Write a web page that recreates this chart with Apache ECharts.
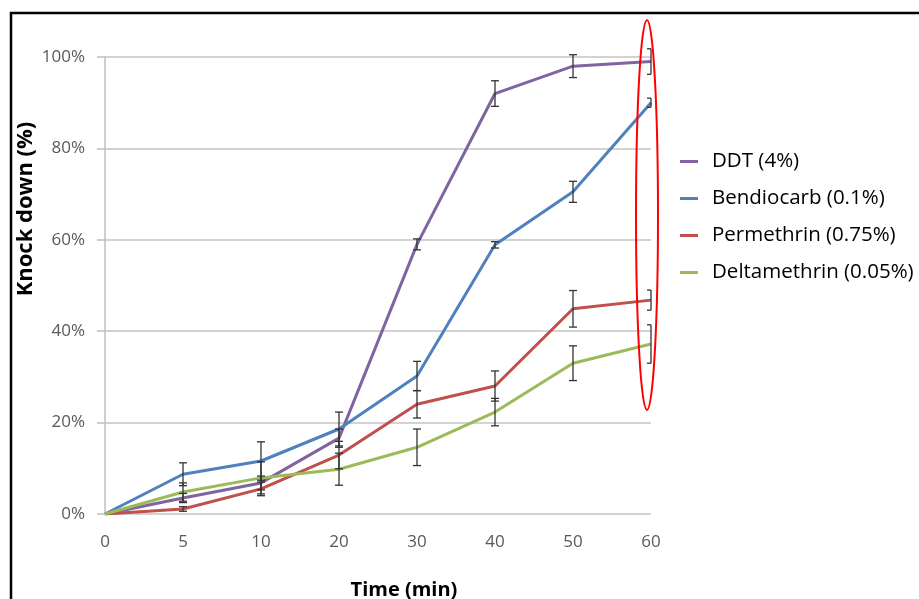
<!DOCTYPE html>
<html>
<head>
<meta charset="utf-8">
<script src="https://cdn.jsdelivr.net/npm/echarts@6/dist/echarts.min.js"></script>
<style>
  html, body { margin: 0; padding: 0; background: #fff; }
  #chart { width: 919px; height: 599px; }
</style>
</head>
<body>
<div id="chart"></div>
<script>
// time points (min), shown as evenly spaced categories
var times = ['0', '5', '10', '20', '30', '40', '50', '60'];
var yTicks = [0, 20, 40, 60, 80, 100];

var names = ['DDT (4%)', 'Bendiocarb (0.1%)', 'Permethrin (0.75%)', 'Deltamethrin (0.05%)'];
var colors = ['#8064A2', '#4F81BD', '#C0504D', '#9BBB59'];

var ddt = [0, 3.5, 6.8, 16.6, 59, 92, 98, 99];
var bendiocarb = [0, 8.7, 11.6, 18.6, 30.2, 58.9, 70.5, 90];
var permethrin = [0, 1.1, 5.5, 12.9, 24, 28, 44.9, 46.8];
var deltamethrin = [0, 4.8, 7.9, 9.8, 14.6, 22.3, 33, 37.2];

var ddtErr = [0, 1, 1.5, 2, 1.2, 2.8, 2.5, 2.8];
var bendiocarbErr = [0, 2.5, 4.2, 3.7, 3.2, 0.7, 2.3, 1];
var permethrinErr = [0, 0.5, 1.5, 3, 3, 3.3, 4, 2.2];
var deltamethrinErr = [0, 2, 3.5, 3.5, 4, 3, 3.8, 4.2];

var values = [ddt, bendiocarb, permethrin, deltamethrin];
var errors = [ddtErr, bendiocarbErr, permethrinErr, deltamethrinErr];

var chart = echarts.init(document.getElementById('chart'));

var font = '"Open Sans", "Liberation Sans", sans-serif';

var renderError = function (params, api) {
    var i = api.value(0);
    var v = api.value(1);
    var e = api.value(2);
    if (!e) return null;
    var top = api.coord([i, v + e]);
    var bot = api.coord([i, v - e]);
    var w = 4;
    var last = i === times.length - 1;
    var style = { stroke: '#333', lineWidth: 1.3 };
    return {
        type: 'group',
        children: [
            { type: 'line', shape: { x1: top[0], y1: top[1], x2: bot[0], y2: bot[1] }, style: style },
            { type: 'line', shape: { x1: top[0] - w, y1: top[1], x2: last ? top[0] : top[0] + w, y2: top[1] }, style: style },
            { type: 'line', shape: { x1: bot[0] - w, y1: bot[1], x2: last ? bot[0] : bot[0] + w, y2: bot[1] }, style: style }
        ]
    };
};

var series = [];
for (var s = 0; s < values.length; s++) {
    series.push({
        name: names[s],
        type: 'line',
        data: values[s],
        symbol: 'none',
        lineStyle: { color: colors[s], width: 3 },
        itemStyle: { color: colors[s] },
        z: 3
    });
}
for (var s = 0; s < values.length; s++) {
    var d = [];
    for (var i = 0; i < times.length; i++) {
        d.push([i, values[s][i], errors[s][i]]);
    }
    series.push({
        type: 'custom',
        renderItem: renderError,
        data: d,
        encode: { x: 0, y: 1 },
        silent: true,
        z: 4
    });
}

chart.setOption({
    animation: false,
    backgroundColor: '#fff',
    grid: { left: 105, right: 268, top: 57, bottom: 85 },
    legend: {
        data: names,
        orient: 'vertical',
        left: 675,
        top: 146,
        itemGap: 16,
        itemWidth: 18,
        itemHeight: 3,
        icon: 'rect',
        textStyle: { fontFamily: font, fontSize: 20.5, color: '#000', lineHeight: 20, padding: [0, 0, 0, 9] }
    },
    xAxis: {
        type: 'category',
        data: times,
        boundaryGap: false,
        axisLine: { show: false },
        axisTick: { show: false },
        axisLabel: { color: '#595959', fontFamily: font, fontSize: 17, margin: 20 },
        splitLine: { show: false }
    },
    yAxis: {
        type: 'value',
        min: yTicks[0],
        max: yTicks[yTicks.length - 1],
        interval: 20,
        axisLine: { show: true, lineStyle: { color: '#bfbfbf', width: 1.5 } },
        axisTick: { show: true, length: 8, lineStyle: { color: '#bfbfbf', width: 1.5 } },
        axisLabel: { color: '#595959', fontFamily: font, fontSize: 17, margin: 20, formatter: '{value}%' },
        splitLine: { lineStyle: { color: '#c4c4c4', width: 1.5 } }
    },
    graphic: [
        {
            type: 'rect',
            shape: { x: 11, y: 13, width: 930, height: 620 },
            style: { fill: null, stroke: '#000', lineWidth: 2.5 },
            z: 10
        },
        {
            type: 'text',
            x: 26, y: 209,
            rotation: Math.PI / 2,
            style: {
                text: 'Knock down (%)',
                font: 'bold 22px ' + font,
                fill: '#000',
                align: 'center',
                verticalAlign: 'middle'
            }
        },
        {
            type: 'text',
            x: 404, y: 590,
            style: {
                text: 'Time (min)',
                font: 'bold 20px ' + font,
                fill: '#000',
                align: 'center',
                verticalAlign: 'middle'
            }
        },
        {
            type: 'ellipse',
            shape: { cx: 647, cy: 215, rx: 11, ry: 195 },
            style: { fill: null, stroke: '#ff0000', lineWidth: 2 },
            z: 10
        }
    ],
    series: series
});
</script>
</body>
</html>
